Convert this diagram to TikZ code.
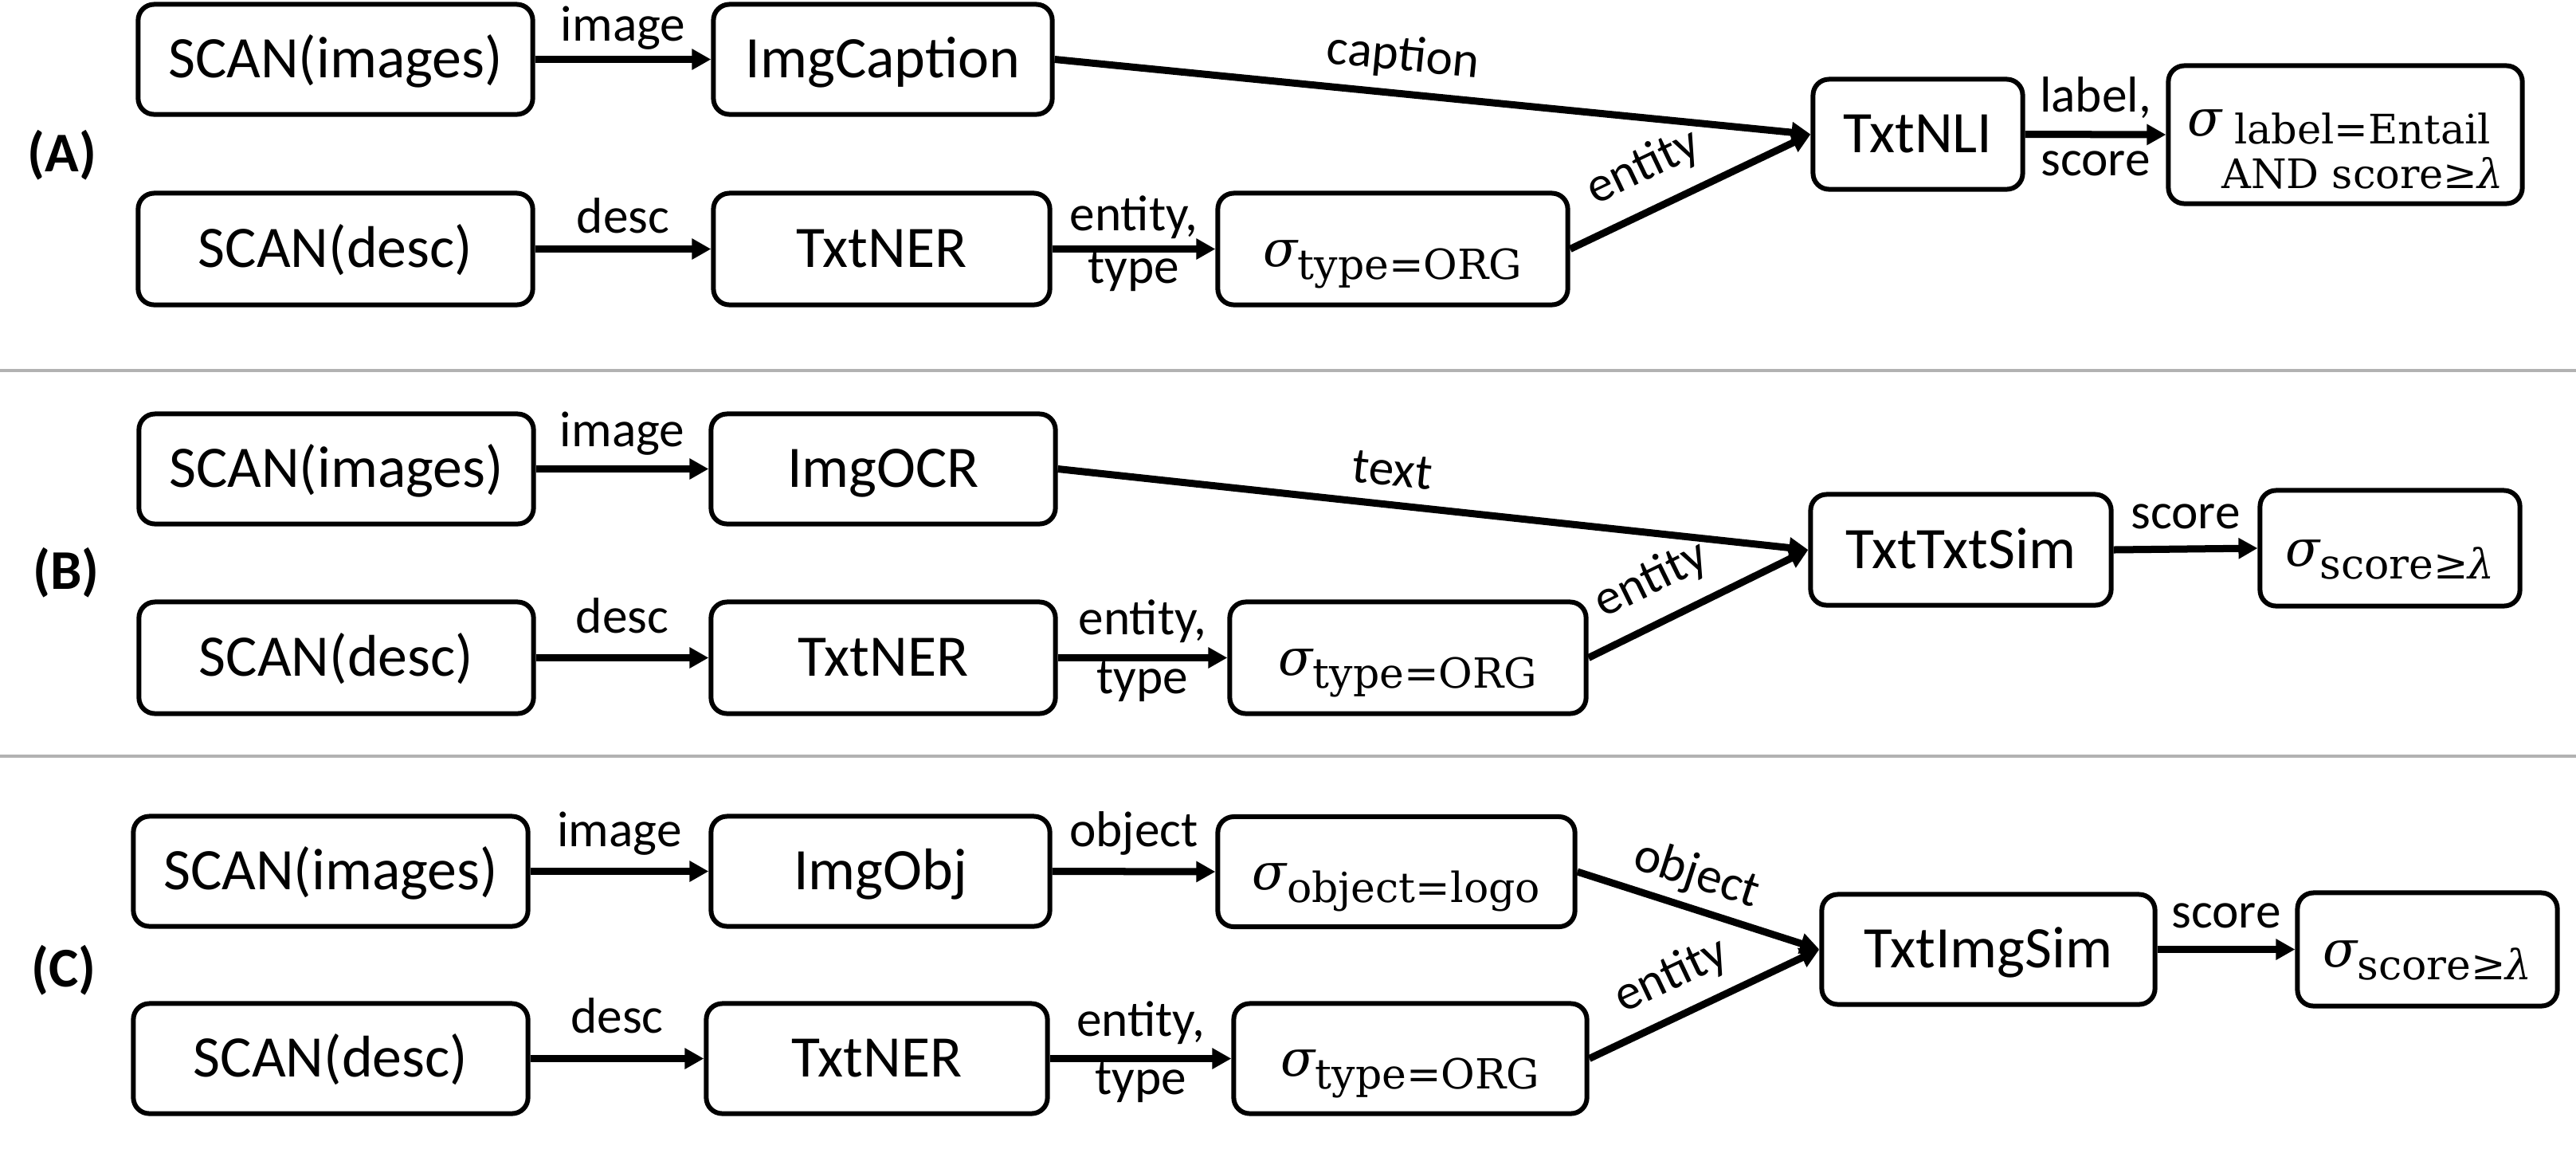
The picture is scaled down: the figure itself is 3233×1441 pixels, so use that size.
\documentclass[tikz,border=0pt]{standalone}
\usepackage{fontspec}
\setmainfont{Carlito}
\newfontfamily\dvserif{DejaVu Serif}
\usetikzlibrary{arrows.meta}

% text sizes
\newcommand\boxfont{\fontsize{21}{24}\selectfont}
\newcommand\labfont{\fontsize{18}{21}\selectfont}
\newcommand\panelfont{\bfseries\fontsize{20}{24}\selectfont}
% selection operator: sigma with a serif subscript
\newcommand\sigsym{{\dvserif\itshape\fontsize{18}{20}\selectfont σ}}
\newcommand\selsub[1]{\raisebox{-0.16cm}{\dvserif\fontsize{14.8}{16.2}\selectfont #1}}
\newcommand\lam{{\itshape λ}}

\begin{document}
\begin{tikzpicture}[x=0.01cm, y=-0.01cm,
  blk/.style={draw, line width=0.06cm, rounded corners=0.2cm, inner sep=0pt,
    font=\boxfont, text height=0.46cm, text depth=0pt, minimum height=1.38cm},
  selbox/.style={blk, text height=0.44cm},
  flow/.style={line width=0.09cm, -{Triangle[length=0.24cm,width=0.25cm]}},
  lab/.style={anchor=base, font=\labfont, inner sep=0pt},
  panel/.style={font=\panelfont, inner sep=0pt},
  sepline/.style={line width=0.045cm, draw=black!30}]
\useasboundingbox (0,0) rectangle (3233,1441);

% separators between the three plans
\draw[sepline] (0,465) -- (3233,465);
\draw[sepline] (0,949) -- (3233,949);

% ---------- plan (A) ----------
\node[panel] (pA) at (78,195) {(A)};
\node[blk, minimum width=4.95cm] (a1) at (421,74.5) {SCAN(images)};
\node[blk, minimum width=4.25cm] (a2) at (1108,74.5) {ImgCaption};
\node[blk, minimum width=4.95cm, minimum height=1.40cm] (a3) at (421,312.5) {SCAN(desc)};
\node[blk, minimum width=4.22cm, minimum height=1.40cm] (a4) at (1106.5,312.5) {TxtNER};
\node[selbox, minimum width=4.39cm, minimum height=1.40cm] (a5) at (1748,312.5) {\sigsym\selsub{type=ORG}};
\node[blk, minimum width=2.63cm] (a6) at (2407,168.5) {TxtNLI};
\node[selbox, minimum width=4.44cm, minimum height=1.73cm, text height=0.5cm, text depth=0.48cm] (a7) at (2943.5,169)
  {\sigsym\raisebox{-0.1cm}{\dvserif\fontsize{14.5}{16.2}\selectfont\begin{tabular}[t]{@{}c@{}}label=Entail\\AND score≥\lam\end{tabular}}};

\draw[flow] (a1.east) -- (a2.west) node[lab, midway, yshift=0.23cm] {image};
\draw[flow] (a3.east) -- (a4.west) node[lab, midway, yshift=0.20cm] {desc};
\draw[flow] (a4.east) -- (a5.west) node[lab, midway, yshift=0.23cm] {entity,}
                                   node[lab, midway, yshift=-0.43cm] {type};
\draw[flow] (a2.east) -- (a6.west) node[lab, sloped, pos=0.456, yshift=0.29cm] {caption};
\draw[flow] (a5.east) -- (a6.west) node[lab, sloped, pos=0.38, yshift=0.36cm] {entity};
\draw[flow] (a6.east) -- (a7.west) node[lab, midway, yshift=0.28cm] {label,}
                                   node[lab, midway, yshift=-0.52cm] {score};

% ---------- plan (B) ----------
\node[panel] (pB) at (83,719) {(B)};
\node[blk, minimum width=4.95cm] (b1) at (422,588.5) {SCAN(images)};
\node[blk, minimum width=4.32cm] (b2) at (1108.5,588.5) {ImgOCR};
\node[blk, minimum width=4.95cm, minimum height=1.40cm] (b3) at (422,825.5) {SCAN(desc)};
\node[blk, minimum width=4.32cm, minimum height=1.40cm] (b4) at (1108.5,825.5) {TxtNER};
\node[selbox, minimum width=4.47cm, minimum height=1.40cm] (b5) at (1767,825.5) {\sigsym\selsub{type=ORG}};
\node[blk, minimum width=3.77cm, minimum height=1.39cm] (b6) at (2461,690) {TxtTxtSim};
\node[selbox, minimum width=3.26cm, minimum height=1.45cm] (b7) at (2999.5,688) {\sigsym\selsub{score≥\lam}};

\draw[flow] (b1.east) -- (b2.west) node[lab, midway, yshift=0.28cm] {image};
\draw[flow] (b3.east) -- (b4.west) node[lab, midway, yshift=0.31cm] {desc};
\draw[flow] (b4.east) -- (b5.west) node[lab, midway, yshift=0.29cm] {entity,}
                                   node[lab, midway, yshift=-0.45cm] {type};
\draw[flow] (b2.east) -- (b6.west) node[lab, sloped, pos=0.441, yshift=0.24cm] {text};
\draw[flow] (b5.east) -- (b6.west) node[lab, sloped, pos=0.37, yshift=0.36cm] {entity};
\draw[flow] (b6.east) -- (b7.west) node[lab, midway, yshift=0.26cm] {score};

% ---------- plan (C) ----------
\node[panel] (pC) at (80,1218) {(C)};
\node[blk, minimum width=4.95cm] (c1) at (415,1093.5) {SCAN(images)};
\node[blk, minimum width=4.25cm] (c2) at (1105,1093.5) {ImgObj};
\node[blk, minimum width=4.95cm] (c3) at (415,1328.5) {SCAN(desc)};
\node[blk, minimum width=4.28cm] (c4) at (1100.5,1328.5) {TxtNER};
\node[selbox, minimum width=4.48cm] (c5) at (1752.5,1094) {\sigsym\selsub{object=logo}};
\node[selbox, minimum width=4.43cm] (c6) at (1770,1328.5) {\sigsym\selsub{type=ORG}};
\node[blk, minimum width=4.18cm] (c7) at (2495.5,1191.5) {TxtImgSim};
\node[selbox, minimum width=3.26cm, minimum height=1.42cm] (c8) at (3046.5,1191.5) {\sigsym\selsub{score≥\lam}};

\draw[flow] (c1.east) -- (c2.west) node[lab, midway, yshift=0.31cm] {image};
\draw[flow] (c3.east) -- (c4.west) node[lab, midway, yshift=0.32cm] {desc};
\draw[flow] (c2.east) -- (c5.west) node[lab, midway, yshift=0.31cm] {object};
\draw[flow] (c4.east) -- (c6.west) node[lab, midway, yshift=0.28cm] {entity,}
                                   node[lab, midway, yshift=-0.45cm] {type};
\draw[flow] (c5.east) -- (c7.west) node[lab, sloped, pos=0.45, yshift=0.25cm] {object};
\draw[flow] (c6.east) -- (c7.west) node[lab, sloped, pos=0.43, yshift=0.33cm] {entity};
\draw[flow] (c7.east) -- (c8.west) node[lab, midway, yshift=0.27cm] {score};
\end{tikzpicture}
\end{document}
